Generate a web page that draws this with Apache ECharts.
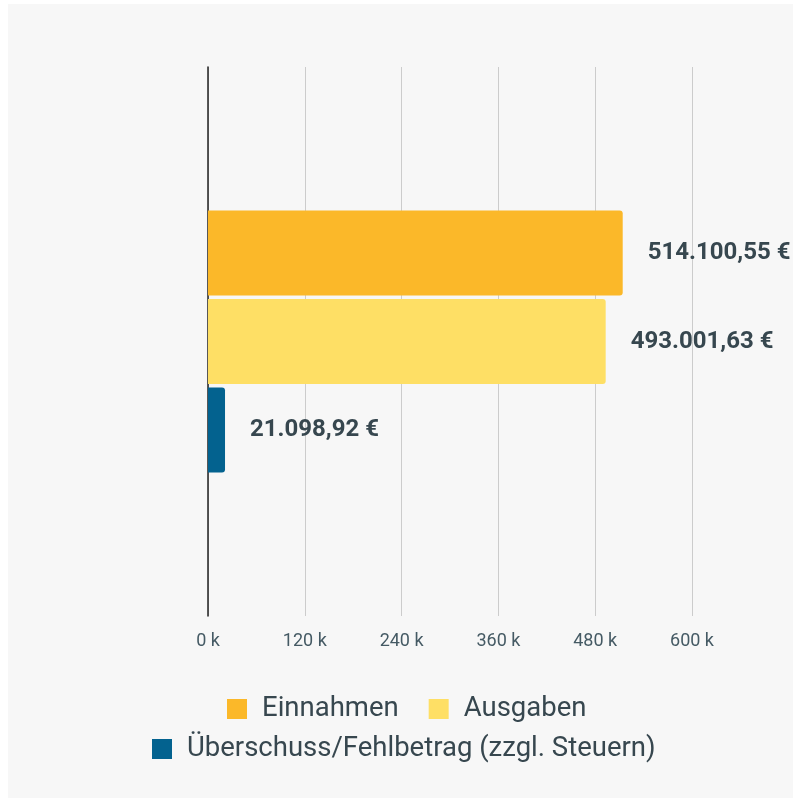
<!DOCTYPE html>
<html>
<head>
<meta charset="utf-8">
<script src="https://cdn.jsdelivr.net/npm/echarts@6/dist/echarts.min.js"></script>
<style>
  body { margin: 0; background: #ffffff; }
  #bg { position: absolute; left: 8px; top: 4px; width: 785px; height: 794px; background: #f7f7f7; }
  #chart { position: absolute; left: 0; top: 0; width: 793px; height: 802px; }
</style>
</head>
<body>
<div id="bg"></div>
<div id="chart"></div>
<script>
var categories = [''];
var seriesNames = ['Einnahmen', 'Ausgaben', 'Überschuss/Fehlbetrag (zzgl. Steuern)'];
var einnahmen = [514100.55];
var ausgaben = [493001.63];
var ueberschuss = [21098.92];
var seriesColors = ['#fbb829', '#fedf65', '#03628f'];

function euro(v) {
  var parts = v.toFixed(2).split('.');
  var intPart = parts[0].replace(/\B(?=(\d{3})+(?!\d))/g, '.');
  return intPart + ',' + parts[1] + ' €';
}

var chart = echarts.init(document.getElementById('chart'));

function makeSeries(name, data, color) {
  return {
    name: name,
    type: 'bar',
    data: data,
    barWidth: 85,
    barGap: '4%',
    itemStyle: { color: color, borderRadius: [0, 3, 3, 0] },
    label: {
      show: true,
      position: 'right',
      distance: 25,
      fontFamily: 'Roboto',
      fontWeight: 'bold',
      fontSize: 24,
      color: '#37474f',
      formatter: function (p) { return euro(p.value); }
    }
  };
}

var option = {
  animation: false,
  textStyle: { fontFamily: 'Roboto' },
  grid: { left: 208, right: 101, top: 67, bottom: 186 },
  xAxis: {
    type: 'value',
    min: 0,
    max: 600000,
    interval: 120000,
    axisLine: { show: false },
    axisTick: { show: false },
    splitLine: { lineStyle: { color: '#cccccc', width: 1 } },
    axisLabel: {
      margin: 16,
      fontSize: 18,
      color: '#455a64',
      formatter: function (v) { return (v / 1000) + ' k'; }
    }
  },
  yAxis: {
    type: 'category',
    data: categories,
    inverse: true,
    axisLine: { show: true, lineStyle: { color: '#222222', width: 1.5 } },
    axisTick: { show: false },
    axisLabel: { show: false }
  },
  legend: [
    {
      data: [seriesNames[0], seriesNames[1]],
      top: 690,
      left: 222,
      icon: 'rect',
      itemWidth: 20,
      itemHeight: 20,
      itemGap: 30,
      textStyle: { fontSize: 27.5, color: '#37474f', padding: [0, 0, 0, 10] }
    },
    {
      data: [seriesNames[2]],
      top: 730,
      left: 147,
      icon: 'rect',
      itemWidth: 20,
      itemHeight: 20,
      textStyle: { fontSize: 27.5, color: '#37474f', padding: [0, 0, 0, 10] }
    }
  ],
  series: [
    makeSeries(seriesNames[0], einnahmen, seriesColors[0]),
    makeSeries(seriesNames[1], ausgaben, seriesColors[1]),
    makeSeries(seriesNames[2], ueberschuss, seriesColors[2])
  ]
};
chart.setOption(option);
</script>
</body>
</html>
